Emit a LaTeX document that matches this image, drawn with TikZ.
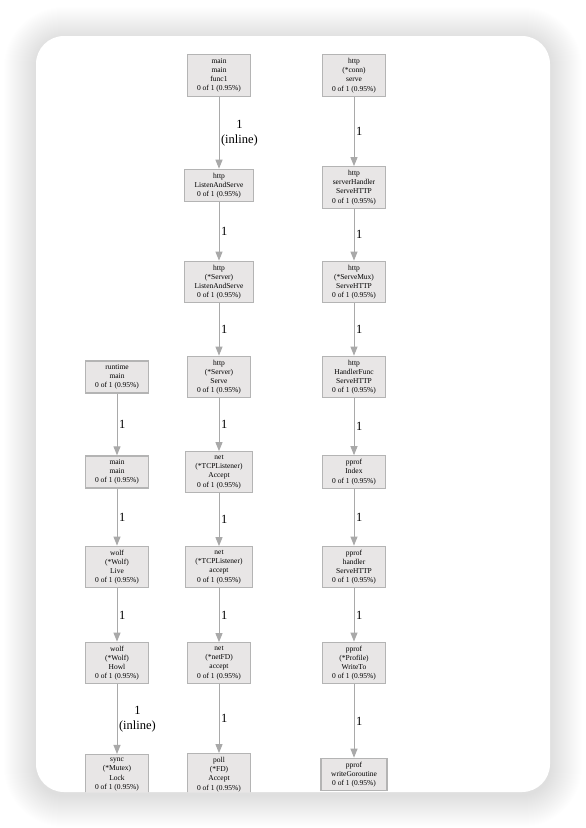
\documentclass[tikz,border=0pt]{standalone}
\usepackage{fontspec}
\setmainfont{Liberation Serif}
\usetikzlibrary{arrows.meta}
\definecolor{boxfill}{HTML}{E8E6E6}
\definecolor{boxline}{HTML}{B4B4B4}
\definecolor{edgegray}{HTML}{A9A9A9}

\begin{document}
\begin{tikzpicture}[x=1pt,y=-1pt,
    fn/.style={draw=boxline,fill=boxfill,line width=1.2pt,align=center,
      inner xsep=10pt,inner ysep=3.6pt,font=\fontsize{7.5}{9.2}\selectfont},
    call/.style={draw=edgegray,line width=1pt,-{Triangle[length=9pt,width=7pt]}},
    cnt/.style={right,inner sep=1.5pt,align=center,font=\fontsize{12.5}{15}\selectfont}]
  \useasboundingbox (0,0) rectangle (586,828);
  % shadow of the card
  \foreach \i in {1,...,32}{
    \pgfmathsetmacro\rr{28+\i}
    \fill[black,opacity=0.0055,rounded corners=\rr pt]
      (36-\i,36-\i+3) rectangle (550+\i,792+\i+3);
  }
  \fill[white,rounded corners=28pt] (36,36) rectangle (550,792);
  \begin{scope}
    \clip[rounded corners=28pt] (36,36) rectangle (550,792);
    % left column
    \node[fn] (rtm) at (117,377) {runtime\\main\\0 of 1 (0.95\%)};
    \node[fn] (mmain) at (117,472) {main\\main\\0 of 1 (0.95\%)};
    \node[fn] (wlive) at (117,567) {wolf\\(*Wolf)\\Live\\0 of 1 (0.95\%)};
    \node[fn] (whowl) at (117,663) {wolf\\(*Wolf)\\Howl\\0 of 1 (0.95\%)};
    \node[fn] (slock) at (117,774.5) {sync\\(*Mutex)\\Lock\\0 of 1 (0.95\%)};
    % middle column
    \node[fn] (f1) at (219,75.5) {main\\main\\func1\\0 of 1 (0.95\%)};
    \node[fn] (las) at (219,185.5) {http\\ListenAndServe\\0 of 1 (0.95\%)};
    \node[fn] (sls) at (219,282) {http\\(*Server)\\ListenAndServe\\0 of 1 (0.95\%)};
    \node[fn] (ssv) at (219,377) {http\\(*Server)\\Serve\\0 of 1 (0.95\%)};
    \node[fn] (tacc) at (219,472) {net\\(*TCPListener)\\Accept\\0 of 1 (0.95\%)};
    \node[fn] (tacc2) at (219,567) {net\\(*TCPListener)\\accept\\0 of 1 (0.95\%)};
    \node[fn] (fdacc) at (219,663) {net\\(*netFD)\\accept\\0 of 1 (0.95\%)};
    \node[fn] (pacc) at (219,774.5) {poll\\(*FD)\\Accept\\0 of 1 (0.95\%)};
    % right column
    \node[fn] (conn) at (354,75.5) {http\\(*conn)\\serve\\0 of 1 (0.95\%)};
    \node[fn] (shh) at (354,187.5) {http\\serverHandler\\ServeHTTP\\0 of 1 (0.95\%)};
    \node[fn] (smux) at (354,282) {http\\(*ServeMux)\\ServeHTTP\\0 of 1 (0.95\%)};
    \node[fn] (hfunc) at (354,377) {http\\HandlerFunc\\ServeHTTP\\0 of 1 (0.95\%)};
    \node[fn] (pidx) at (354,472) {pprof\\Index\\0 of 1 (0.95\%)};
    \node[fn] (phnd) at (354,567) {pprof\\handler\\ServeHTTP\\0 of 1 (0.95\%)};
    \node[fn] (pwrt) at (354,663) {pprof\\(*Profile)\\WriteTo\\0 of 1 (0.95\%)};
    \node[fn] (pgor) at (354,774.5) {pprof\\writeGoroutine\\0 of 1 (0.95\%)};
    % calls
    \draw[call] (rtm) -- node[cnt]{1} (mmain);
    \draw[call] (mmain) -- node[cnt]{1} (wlive);
    \draw[call] (wlive) -- node[cnt]{1} (whowl);
    \draw[call] (whowl) -- node[cnt]{1\\(inline)} (slock);
    \draw[call] (f1) -- node[cnt]{1\\(inline)} (las);
    \draw[call] (las) -- node[cnt]{1} (sls);
    \draw[call] (sls) -- node[cnt]{1} (ssv);
    \draw[call] (ssv) -- node[cnt]{1} (tacc);
    \draw[call] (tacc) -- node[cnt]{1} (tacc2);
    \draw[call] (tacc2) -- node[cnt]{1} (fdacc);
    \draw[call] (fdacc) -- node[cnt]{1} (pacc);
    \draw[call] (conn) -- node[cnt]{1} (shh);
    \draw[call] (shh) -- node[cnt]{1} (smux);
    \draw[call] (smux) -- node[cnt]{1} (hfunc);
    \draw[call] (hfunc) -- node[cnt]{1} (pidx);
    \draw[call] (pidx) -- node[cnt]{1} (phnd);
    \draw[call] (phnd) -- node[cnt]{1} (pwrt);
    \draw[call] (pwrt) -- node[cnt]{1} (pgor);
  \end{scope}
\end{tikzpicture}
\end{document}
